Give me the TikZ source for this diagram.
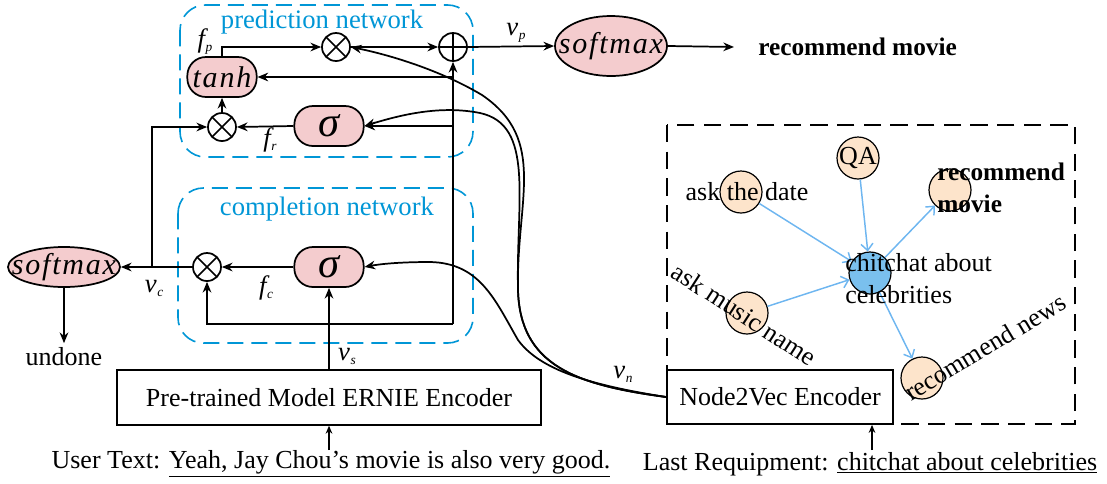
\documentclass[tikz,border=0pt]{standalone}
\usepackage{fontspec}
\setmainfont{Liberation Serif}
\newfontfamily\spit{Liberation Serif}[LetterSpace=6]
\usetikzlibrary{arrows.meta,shapes.misc,shapes.geometric}
\definecolor{pinkf}{RGB}{244,204,206}
\definecolor{peach}{RGB}{253,228,203}
\definecolor{nodeblue}{RGB}{122,192,238}
\definecolor{netcyan}{RGB}{0,150,214}
\definecolor{edgeblue}{RGB}{110,182,240}
\newcommand\nf{\fontsize{19.5}{24}\selectfont}
\newcommand\opfont{\fontsize{22.5}{24}\selectfont\spit\itshape}
\newcommand\lbl[2]{{\fontsize{20}{22}\selectfont\itshape #1}\kern0.5pt\raisebox{-3pt}{\fontsize{10}{11}\selectfont\itshape #2}}
\tikzset{
  every node/.style={font=\nf},
  ln/.style={line width=1.3pt, -{Stealth[length=8pt,width=6.5pt]}},
  thinln/.style={line width=0.9pt, -{Stealth[length=6pt,width=5pt]}},
  pinkbox/.style={draw, line width=1.3pt, fill=pinkf, rounded corners=14pt, inner sep=0pt, minimum width=52pt, minimum height=30pt},
  opc/.style={circle, draw, line width=1.3pt, minimum size=21pt, inner sep=0pt},
  timesop/.style={opc, path picture={\draw[line width=1.2pt] (path picture bounding box.north west) -- (path picture bounding box.south east) (path picture bounding box.north east) -- (path picture bounding box.south west);}},
  plusop/.style={opc, path picture={\draw[line width=1.2pt] (path picture bounding box.north) -- (path picture bounding box.south) (path picture bounding box.east) -- (path picture bounding box.west);}},
  smax/.style={ellipse, draw, line width=1.3pt, fill=pinkf, inner sep=0pt, minimum width=84pt},
  encbox/.style={draw, line width=1.3pt, fill=white, inner sep=0pt, minimum height=41pt},
  netbox/.style={draw=netcyan, line width=1.2pt, rounded corners=19pt, dash pattern=on 12pt off 6pt},
  nettext/.style={text=netcyan, font=\fontsize{20}{24}\selectfont},
  gnode/.style={circle, draw, line width=0.9pt, fill=peach, minimum size=31.5pt, inner sep=0pt},
  gedge/.style={draw=edgeblue, line width=1.1pt, -{Straight Barb[length=5pt,width=9pt]}},
  glabel/.style={inner sep=0pt, font=\fontsize{19.5}{24}\selectfont},
}
\begin{document}
\begin{tikzpicture}[x=0.75pt,y=-0.75pt]
\useasboundingbox (0,0) rectangle (1107,483);
% network frames
\draw[netbox] (180,5) rectangle (473,157);
\draw[netbox] (178,188) rectangle (473,343);
\node[nettext] (predt) at (322,22) {prediction network};
\node[nettext] (compt) at (327,209) {completion network};
% graph frame
\draw[line width=1.1pt, dash pattern=on 13pt off 7pt] (667,125) rectangle (1075,424);

% prediction network nodes
\node[pinkbox] (tanh) at (222,77) {\makebox[0pt]{\opfont tanh}};
\node[timesop] (mt) at (336,47) {};
\node[plusop] (plus) at (453,47) {};
\node[timesop] (ml) at (222,127) {};
\node[pinkbox] (sig1) at (329,126) {\fontsize{32}{32}\selectfont\itshape σ};
% completion network nodes
\node[timesop] (mc) at (207,267) {};
\node[pinkbox] (sig2) at (329,267) {\fontsize{32}{32}\selectfont\itshape σ};
\node[smax, minimum height=30pt] (smL) at (64,267) {\makebox[0pt]{\opfont softmax}};
\node[smax, minimum height=45pt] (smR) at (611,46) {\makebox[0pt]{\opfont softmax}};
\node[anchor=west, inner sep=0pt, font=\fontsize{19}{22}\selectfont\bfseries] (recm) at (758,47) {recommend movie};
\node (undone) at (64,357) {undone};
% encoders
\node[encbox, minimum width=318pt] (ernie) at (329,397.5) {Pre-trained Model ERNIE Encoder};
\node[encbox, minimum width=169.5pt, minimum height=40.5pt] (n2v) at (780,397) {Node2Vec Encoder};
\node (utext) at (331,464) {User Text: \underline{Yeah, Jay Chou's movie is also very good.}};
\node (ltext) at (870,464) {Last Requipment: \underline{chitchat about celebrities}};

% labels
\node[inner sep=0pt] (fp) at (205,42) {\lbl{f}{p}};
\node[inner sep=0pt] (fr) at (270,140) {\lbl{f}{r}};
\node[inner sep=0pt] (fc) at (266,288) {\lbl{f}{c}};
\node[inner sep=0pt] (vc) at (154,288) {\lbl{v}{c}};
\node[inner sep=0pt] (vs) at (347,356) {\lbl{v}{s}};
\node[inner sep=0pt] (vp) at (516,33) {\lbl{v}{p}};
\node[inner sep=0pt] (vn) at (623,374) {\lbl{v}{n}};

% connectors
\coordinate (bus) at (453,324);
\coordinate (vcj) at (152,267);
\draw[ln] (tanh.north) |- (mt.west);
\draw[ln] (mt.east) -- (plus.west);
\draw[ln] (bus) -- (plus.south);
\draw[ln] (plus |- tanh.east) -- (tanh.east);
\draw[ln] (plus |- sig1.east) -- (sig1.east);
\draw[ln] (sig1.west) -- (ml.east);
\draw[ln] (ml.north) -- (tanh.south);
\draw[ln] (vcj) |- (ml.west);
\draw[ln] (sig2.west) -- (mc.east);
\draw[ln] (mc.west) -- (smL.east);
\draw[ln] (bus) -| (mc.south);
\draw[ln] (ernie.north) -- (sig2.south);
\draw[ln] (smL.south) -- (undone.north);
\draw[ln] (plus.east) -- (smR.west);
\draw[ln] (smR.east) -- ([xshift=-18pt]recm.west);
\coordinate (ut) at (329,450);
\coordinate (lt) at (872,450);
\draw[thinln] (ut) -- (ernie.south);
\draw[thinln] (lt) -- (lt |- n2v.south);
% v_n curves
\draw[ln] (n2v.west) .. controls (575,385) and (520,365) .. (518,290) .. controls (516,200) and (548,140) .. (482,95) .. controls (440,70) and (390,55) .. (mt.east);
\draw[ln] (n2v.west) .. controls (575,385) and (520,365) .. (518,290) .. controls (516,200) and (535,125) .. (480,113) .. controls (440,105) and (400,115) .. (sig1.east);
\draw[ln] (n2v.west) .. controls (590,385) and (540,370) .. (518,340) .. controls (495,300) and (480,263) .. (430,262) .. controls (400,262) and (380,264) .. (sig2.east);

% graph
\node[gnode] (date) at (741,192) {};
\node[gnode] (qa) at (858,158) {};
\node[gnode] (rmov) at (950,190) {};
\node[gnode, fill=nodeblue] (chat) at (870,273) {};
\node[gnode] (music) at (747,313) {};
\node[gnode] (rnews) at (922,378) {};
\draw[gedge] (date) -- (chat);
\draw[gedge] (qa) -- (chat);
\draw[gedge] (music) -- (chat);
\draw[gedge] (chat) -- (rmov);
\draw[gedge] (chat) -- (rnews);
\node[glabel] (datet) at (747,192) {ask the date};
\node[glabel] (qat) at (858,158) {QA};
\node[glabel, anchor=west, align=left, font=\fontsize{19}{24}\selectfont\bfseries] (rmovt) at (937,188) {recommend\\movie};
\node[glabel, anchor=west, align=left] (chatt) at (845,279) {chitchat about\\celebrities};
\node[glabel, rotate=-33] (musict) at (744,314) {ask music name};
\node[glabel, rotate=31] (rnewst) at (985,347) {recommend news};
\end{tikzpicture}
\end{document}
